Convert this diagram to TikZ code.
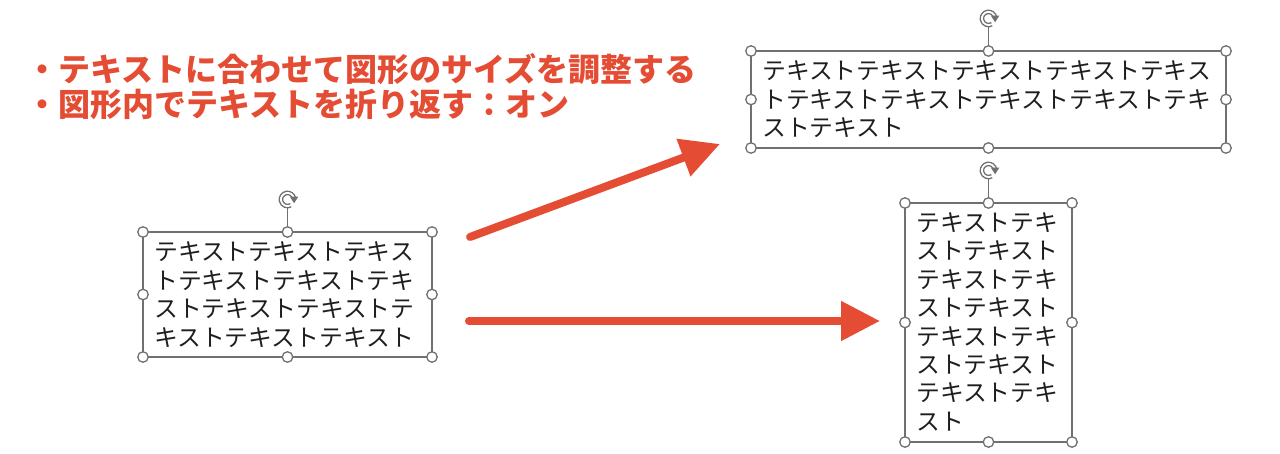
\documentclass[tikz,border=0pt]{standalone}
\usepackage{fontspec}
\newfontfamily\cjk{Noto Sans CJK JP}
\usetikzlibrary{arrows.meta,calc}
\definecolor{accent}{RGB}{228,77,52}
\definecolor{hgray}{RGB}{112,112,112}
\definecolor{txtc}{RGB}{30,30,30}
\tikzset{
  rothandle/.pic={
    \draw[hgray, line width=1.4pt, double=white, double distance=1.8pt]
      (-10:6.6) arc[start angle=-10, end angle=-300, radius=6.6];
    \fill[hgray] (2.4,-2.8) -- (10.8,-2.8) -- (6.6,3.8) -- cycle;
  }
}
\begin{document}
\begin{tikzpicture}[x=1pt,y=-1pt,
  frame/.style={draw=hgray, line width=1.3pt, inner sep=0pt, outer sep=0pt},
  handle/.style={circle, draw=hgray, line width=1.3pt, fill=white, inner sep=0pt, minimum size=10.5pt},
  rotline/.style={draw=hgray, line width=1.3pt},
  boxtext/.style={anchor=base west, inner sep=0pt, text=txtc, font=\cjk\fontsize{23.8}{28}\selectfont},
  titletext/.style={anchor=base west, inner sep=0pt, text=accent, font=\cjk\bfseries\fontsize{32}{34}\selectfont},
  bigarrow/.style={draw=accent, line width=8pt, line cap=round, -{Triangle[length=39pt,width=38pt]}},
]
\useasboundingbox (0,0) rectangle (1280,454);

% titles
\node[titletext] (T1) at (26,82) {・テキストに合わせて図形のサイズを調整する};
\node[titletext] (T2) at (26,117) {・図形内でテキストを折り返す：オン};

% boxes
\node[frame, minimum width=289pt, minimum height=125pt] (A) at (287.5,294.5) {};
\node[frame, minimum width=475pt, minimum height=97pt] (B) at (988.5,99.5) {};
\node[frame, minimum width=167pt, minimum height=239pt] (C) at (988.5,322.5) {};

% texts
\foreach \t [count=\i from 0] in {テキストテキストテキス,トテキストテキストテキ,ストテキストテキストテ,キストテキストテキスト}
  \node[boxtext] (At\i) at ($(A.north west)+(11,{29+\i*28.4})$) {\t};
\foreach \t [count=\i from 0] in {テキストテキストテキストテキストテキス,トテキストテキストテキストテキストテキ,ストテキスト}
  \node[boxtext] (Bt\i) at ($(B.north west)+(11,{29+\i*28.4})$) {\t};
\foreach \t [count=\i from 0] in {テキストテキ,ストテキスト,テキストテキ,ストテキスト,テキストテキ,ストテキスト,テキストテキ,スト}
  \node[boxtext] (Ct\i) at ($(C.north west)+(11,{28.5+\i*28.4})$) {\t};

% rotation handles and selection handles
\foreach \b in {A,B,C}{
  \coordinate (\b rot) at ($(\b.north)+(0,-32.5)$);
  \coordinate (\b rotb) at ($(\b.north)+(0,-24)$);
  \draw[rotline] (\b.north) -- (\b rotb);
  \pic (\b rp) at (\b rot) {rothandle};
  \foreach \a/\n in {north west/nw,north/n,north east/ne,east/e,south east/se,south/s,south west/sw,west/w}
    \node[handle] (\b h\n) at (\b.\a) {};
}

% arrows
\coordinate (a1s) at (470,237);
\coordinate (a1e) at (720,144);
\coordinate (a2s) at (469,321);
\coordinate (a2e) at (880,321);
\draw[bigarrow] (a1s) -- (a1e);
\draw[bigarrow] (a2s) -- (a2e);
\end{tikzpicture}
\end{document}
